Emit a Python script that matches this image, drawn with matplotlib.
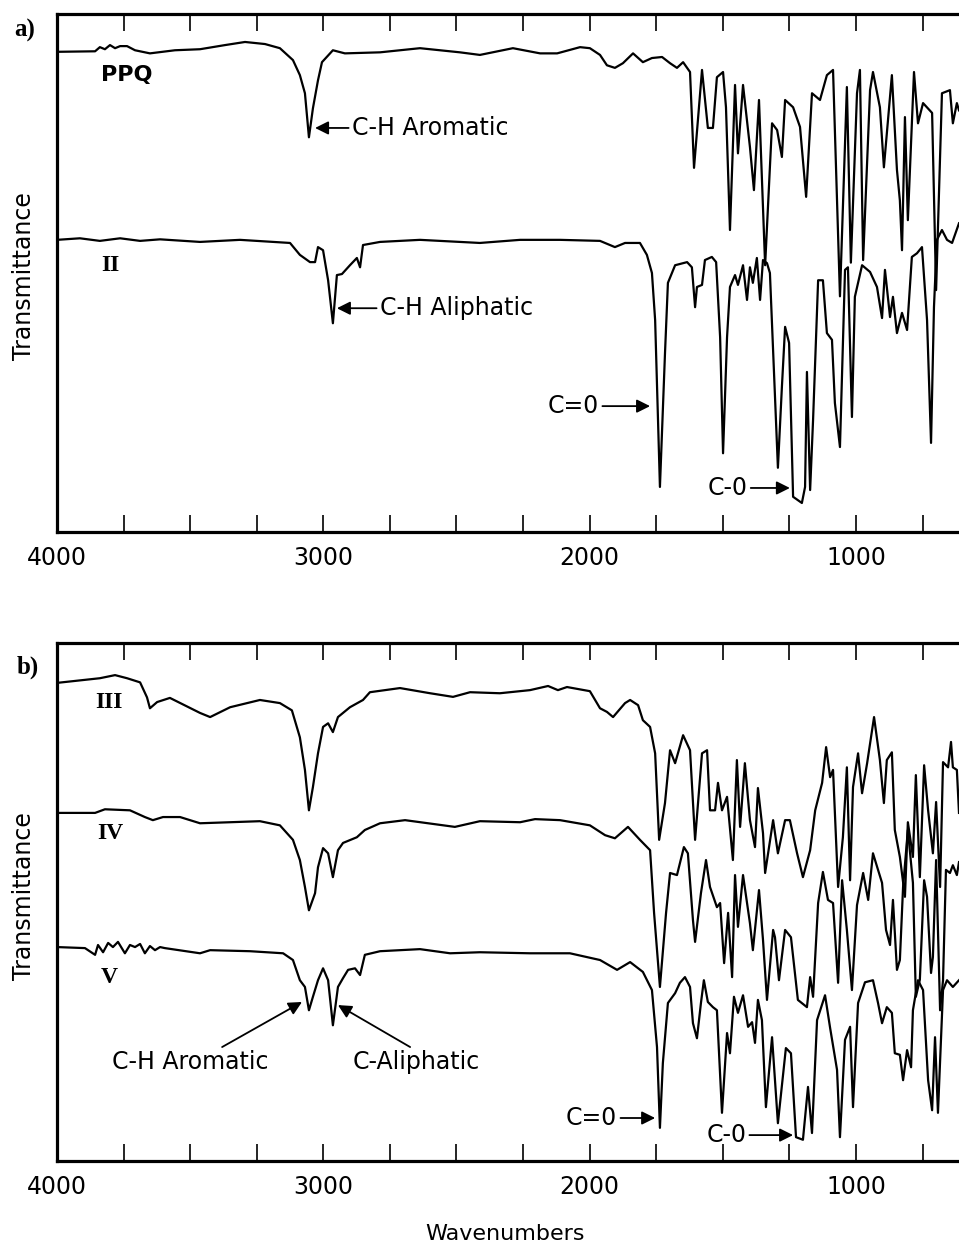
import numpy as np
import matplotlib
matplotlib.use('Agg')
import matplotlib.pyplot as plt
from matplotlib.ticker import MultipleLocator, FixedLocator

# IR spectra: (wavenumber cm-1, transmittance in arbitrary % of panel height)
ppq = np.array([
    (4000, 92.7), (3857, 92.8), (3839, 93.6), (3820, 93.2), (3801, 94.0), (3782, 93.4), (3763, 93.8),
    (3737, 93.8), (3707, 93.0), (3651, 92.4), (3557, 93.0), (3463, 93.2), (3369, 94.0), (3294, 94.6),
    (3219, 94.2), (3163, 93.4), (3114, 91.1), (3088, 88.2), (3069, 84.7), (3054, 76.2), (3039, 81.8),
    (3020, 87.2), (3005, 90.7), (2964, 93.0), (2919, 92.4), (2787, 92.6), (2637, 93.4), (2487, 92.6),
    (2412, 92.1), (2288, 93.4), (2186, 92.4), (2122, 92.4), (2036, 93.6), (1999, 93.4), (1961, 92.1),
    (1935, 90.1), (1905, 89.6), (1875, 90.5), (1837, 92.4), (1800, 90.7), (1766, 91.5), (1728, 91.7),
    (1698, 90.5), (1672, 89.6), (1649, 90.7), (1634, 89.6), (1623, 88.8), (1608, 70.3), (1578, 89.2),
    (1556, 78.0), (1537, 78.0), (1522, 87.8), (1499, 88.8), (1488, 82.0), (1473, 58.3), (1454, 86.3),
    (1443, 73.1), (1424, 86.3), (1398, 74.3), (1383, 66.0), (1364, 83.4), (1341, 51.5), (1315, 78.9),
    (1296, 77.6), (1278, 72.4), (1266, 83.4), (1236, 82.0), (1210, 78.2), (1187, 64.7), (1165, 84.7),
    (1135, 83.4), (1109, 88.2), (1086, 89.2), (1060, 45.5), (1034, 85.9), (1019, 52.0), (996, 84.7),
    (985, 89.2), (973, 52.5), (947, 85.3), (936, 88.8), (910, 82.0), (895, 70.4), (865, 88.2),
    (846, 69.9), (835, 64.0), (827, 54.4), (816, 80.1), (805, 60.2), (782, 88.8), (767, 78.9),
    (748, 82.8), (714, 80.9), (699, 46.7), (677, 84.7), (647, 85.3), (636, 78.9), (621, 82.8), (613, 81.4),
])

comp_ii = np.array([
    (4000, 56.4), (3914, 56.7), (3839, 56.2), (3763, 56.7), (3688, 56.2), (3613, 56.5), (3463, 56.0),
    (3313, 56.4), (3125, 55.8), (3088, 53.5), (3050, 52.1), (3031, 52.1), (3020, 55.0), (3001, 54.4),
    (2982, 48.6), (2964, 40.3), (2949, 49.6), (2930, 49.8), (2900, 51.5), (2874, 52.9), (2862, 51.1),
    (2851, 55.4), (2787, 56.0), (2637, 56.4), (2412, 55.8), (2261, 56.4), (2111, 56.4), (1961, 56.2),
    (1905, 55.0), (1867, 55.8), (1811, 55.8), (1785, 53.5), (1766, 50.0), (1754, 40.9), (1736, 8.7),
    (1717, 34.5), (1706, 48.1), (1679, 51.5), (1634, 52.1), (1616, 51.1), (1604, 43.4), (1597, 47.3),
    (1578, 47.7), (1567, 52.5), (1541, 53.1), (1525, 52.1), (1510, 37.6), (1499, 15.2), (1484, 37.6),
    (1473, 47.3), (1454, 49.6), (1443, 47.7), (1424, 51.5), (1409, 44.8), (1398, 51.1), (1387, 48.1),
    (1372, 52.9), (1360, 44.8), (1349, 52.5), (1334, 51.9), (1323, 50.0), (1293, 12.4), (1278, 28.0),
    (1266, 39.6), (1251, 36.5), (1236, 6.8), (1203, 5.6), (1191, 8.7), (1184, 30.9), (1172, 8.1),
    (1161, 21.6), (1142, 48.6), (1124, 48.6), (1109, 38.4), (1090, 37.1), (1079, 24.9), (1060, 16.4),
    (1041, 50.6), (1030, 51.1), (1015, 22.2), (1004, 45.4), (977, 51.5), (947, 50.2), (921, 47.3),
    (902, 41.3), (891, 50.6), (872, 41.5), (861, 45.4), (846, 38.4), (827, 42.3), (808, 39.0),
    (790, 53.1), (771, 53.8), (752, 55.0), (733, 40.9), (718, 17.2), (707, 43.4), (696, 56.4),
    (677, 58.3), (658, 56.4), (639, 55.8), (613, 59.6),
])

comp_iii = np.array([
    (4000, 92.3), (3839, 93.2), (3782, 93.8), (3737, 93.2), (3688, 92.4), (3662, 89.5), (3651, 87.4),
    (3624, 88.6), (3576, 89.4), (3463, 86.5), (3425, 85.7), (3350, 87.6), (3238, 89.0), (3163, 88.4),
    (3118, 87.0), (3088, 81.8), (3069, 75.5), (3054, 67.7), (3039, 72.2), (3020, 78.7), (3001, 83.8),
    (2982, 84.5), (2964, 82.8), (2945, 85.7), (2900, 87.6), (2851, 89.0), (2825, 90.5), (2712, 91.3),
    (2599, 90.3), (2513, 89.6), (2449, 90.5), (2337, 90.3), (2224, 90.9), (2156, 91.7), (2119, 90.9),
    (2085, 91.5), (1999, 90.7), (1961, 87.4), (1935, 86.7), (1912, 85.7), (1867, 88.4), (1848, 89.0),
    (1818, 88.0), (1800, 85.1), (1773, 83.8), (1754, 78.7), (1739, 62.0), (1717, 69.1), (1698, 79.3),
    (1679, 76.8), (1649, 82.2), (1623, 79.3), (1604, 62.0), (1578, 78.7), (1559, 79.3), (1548, 67.7),
    (1529, 67.7), (1518, 73.0), (1503, 67.7), (1484, 70.3), (1462, 58.1), (1447, 77.4), (1435, 64.5),
    (1417, 76.8), (1398, 65.8), (1379, 60.6), (1368, 72.0), (1349, 63.3), (1341, 55.6), (1311, 65.8),
    (1293, 59.4), (1266, 65.8), (1248, 65.8), (1221, 59.4), (1199, 54.8), (1172, 60.0), (1153, 67.7),
    (1127, 73.0), (1112, 79.9), (1097, 74.1), (1086, 75.5), (1067, 52.9), (1049, 62.5), (1034, 76.0),
    (1022, 54.2), (1011, 72.2), (992, 78.7), (977, 71.0), (958, 76.8), (932, 85.7), (910, 77.4),
    (895, 69.1), (884, 77.4), (865, 78.9), (854, 63.9), (835, 58.7), (816, 51.0), (805, 65.4),
    (786, 58.7), (775, 74.5), (760, 54.8), (744, 76.4), (729, 67.7), (711, 59.4), (699, 69.3),
    (684, 52.9), (673, 77.0), (654, 76.0), (643, 80.9), (636, 76.0), (621, 75.5), (613, 67.2),
])

comp_iv = np.array([
    (4000, 67.2), (3857, 67.2), (3820, 67.9), (3726, 67.7), (3670, 66.4), (3640, 65.8), (3602, 66.4),
    (3538, 66.4), (3463, 65.2), (3350, 65.4), (3238, 65.6), (3163, 64.8), (3114, 62.0), (3088, 58.1),
    (3069, 52.9), (3054, 48.4), (3031, 51.7), (3020, 56.7), (3001, 60.4), (2982, 59.4), (2964, 54.8),
    (2945, 60.0), (2926, 61.4), (2874, 62.5), (2844, 63.9), (2787, 65.2), (2693, 65.8), (2506, 64.5),
    (2412, 65.6), (2261, 65.4), (2205, 66.0), (2111, 65.8), (1999, 64.8), (1942, 62.9), (1905, 62.3),
    (1856, 64.5), (1811, 62.0), (1773, 60.0), (1758, 47.9), (1736, 33.6), (1713, 47.9), (1698, 55.6),
    (1672, 55.2), (1646, 60.6), (1631, 59.4), (1612, 46.5), (1604, 42.3), (1582, 51.7), (1563, 58.1),
    (1548, 52.9), (1522, 49.0), (1510, 49.8), (1495, 38.2), (1480, 47.9), (1465, 35.5), (1454, 55.2),
    (1443, 45.2), (1424, 55.2), (1398, 45.9), (1387, 40.7), (1364, 52.3), (1349, 42.7), (1334, 31.1),
    (1311, 44.6), (1304, 43.2), (1289, 34.9), (1266, 44.6), (1244, 43.2), (1218, 31.1), (1184, 29.7),
    (1172, 35.5), (1161, 31.7), (1142, 49.8), (1124, 55.8), (1105, 50.4), (1086, 49.8), (1067, 34.4),
    (1052, 54.2), (1034, 44.6), (1015, 33.0), (996, 49.4), (973, 55.6), (954, 50.4), (936, 59.4),
    (917, 56.2), (902, 53.7), (887, 44.6), (872, 41.7), (861, 50.4), (846, 36.9), (835, 38.8),
    (823, 52.9), (805, 63.9), (786, 53.7), (775, 31.7), (760, 35.0), (744, 54.2), (733, 51.0),
    (718, 36.3), (711, 39.4), (699, 58.1), (684, 29.1), (673, 34.9), (662, 56.2), (647, 55.6),
    (636, 57.1), (621, 55.2), (613, 57.7),
])

comp_v = np.array([
    (4000, 41.3), (3895, 41.1), (3857, 39.8), (3846, 41.7), (3827, 40.3), (3808, 42.1), (3790, 41.3),
    (3771, 42.3), (3745, 40.1), (3726, 41.7), (3707, 41.3), (3688, 41.9), (3670, 40.1), (3651, 41.5),
    (3632, 40.7), (3613, 41.3), (3595, 41.1), (3463, 40.1), (3425, 40.7), (3275, 40.5), (3151, 40.1),
    (3114, 38.8), (3088, 34.9), (3069, 33.6), (3054, 29.1), (3039, 31.7), (3020, 34.9), (3001, 37.2),
    (2982, 34.9), (2964, 26.2), (2945, 33.6), (2926, 35.3), (2907, 36.9), (2881, 37.2), (2862, 35.9),
    (2844, 39.8), (2787, 40.5), (2637, 40.9), (2524, 40.1), (2412, 40.3), (2224, 40.1), (2074, 40.1),
    (1961, 38.8), (1897, 36.9), (1848, 38.4), (1800, 36.5), (1766, 33.0), (1747, 22.0), (1736, 6.4),
    (1725, 18.9), (1706, 30.5), (1679, 32.4), (1661, 34.4), (1642, 35.5), (1623, 33.6), (1612, 26.6),
    (1597, 23.7), (1582, 30.5), (1571, 34.9), (1556, 30.7), (1537, 29.7), (1522, 29.1), (1503, 9.3),
    (1484, 24.7), (1473, 20.8), (1458, 31.7), (1443, 28.6), (1424, 32.0), (1405, 25.9), (1390, 26.8),
    (1379, 22.8), (1368, 31.1), (1353, 27.2), (1338, 10.4), (1315, 23.9), (1293, 7.3), (1263, 21.8),
    (1244, 20.8), (1225, 4.6), (1199, 4.1), (1180, 14.3), (1165, 5.4), (1146, 27.2), (1116, 32.0),
    (1097, 25.7), (1071, 17.6), (1060, 4.6), (1041, 23.4), (1022, 25.9), (1011, 10.4), (992, 30.5),
    (966, 34.5), (936, 34.9), (917, 30.5), (902, 26.6), (884, 29.7), (865, 28.6), (854, 20.8),
    (835, 20.5), (823, 15.6), (808, 21.4), (793, 18.1), (786, 29.1), (767, 34.9), (748, 33.0),
    (729, 15.6), (714, 9.8), (703, 23.9), (692, 9.3), (673, 33.0), (658, 34.9), (636, 33.6), (613, 34.9),
])

# curve labels: (name, wavenumber, transmittance)
labels_a = [('PPQ', 3737, 88.2), ('II', 3801, 51.5)]
labels_b = [('III', 3805, 88.6), ('IV', 3801, 63.3), ('V', 3805, 35.5)]

# band annotations: (text, arrow tip, arrow tail)
notes_a = [
    ('C-H Aromatic', (3031, 78.0), (2905, 78.0)),
    ('C-H Aliphatic', (2949, 43.2), (2800, 43.2)),
    ('C=0', (1773, 24.3), (1952, 24.3)),
    ('C-0', (1248, 8.5), (1395, 8.5)),
]
notes_b = [
    ('C=0', (1754, 8.3), (1884, 8.3)),
    ('C-0', (1236, 5.0), (1400, 5.0)),
]

WN_MAX, WN_MIN = 4000, 613
FONT = 'DejaVu Sans'
ARROW = dict(arrowstyle='-|>', color='black', lw=1.3, mutation_scale=20, shrinkA=0, shrinkB=0)


def style_axis(ax):
    ax.set_xlim(WN_MAX, WN_MIN)
    ax.set_ylim(0, 100)
    ax.spines['right'].set_visible(False)
    for s in ['left', 'top', 'bottom']:
        ax.spines[s].set_linewidth(2.3)
    ax.xaxis.set_major_locator(FixedLocator([4000, 3000, 2000, 1000]))
    ax.xaxis.set_minor_locator(MultipleLocator(250))
    ax.set_yticks([])
    ax.tick_params(axis='x', which='both', direction='in', top=True, bottom=True,
                   length=12.5, width=1.2, labelsize=17, pad=10)
    for lab in ax.get_xticklabels():
        lab.set_fontfamily(FONT)


def draw_notes(ax, notes):
    for text, tip, tail in notes:
        ha = 'left' if tail[0] < tip[0] else 'right'
        ax.annotate('', xy=tip, xytext=tail, arrowprops=ARROW)
        ax.text(tail[0] + (-12 if ha == 'left' else 12), tail[1], text, ha=ha, va='center',
                fontsize=17, family=FONT)


def draw_labels(ax, labels, fam, size):
    for name, x, y in labels:
        ax.text(x, y, name, ha='center', va='center', fontsize=size, family=fam, fontweight='bold')


fig = plt.figure(figsize=(9.59, 12.48), dpi=100)
ax_a = fig.add_axes([57 / 959, 1 - 532 / 1248, 1 - 57 / 959, 518 / 1248])
ax_b = fig.add_axes([57 / 959, 1 - 1161 / 1248, 1 - 57 / 959, 518 / 1248])

for spec in (ppq, comp_ii):
    ax_a.plot(spec[:, 0], spec[:, 1], color='black', lw=1.6)
for spec in (comp_iii, comp_iv, comp_v):
    ax_b.plot(spec[:, 0], spec[:, 1], color='black', lw=1.6)

for ax in (ax_a, ax_b):
    style_axis(ax)

draw_labels(ax_a, labels_a[:1], FONT, 16)
draw_labels(ax_a, labels_a[1:], 'Liberation Serif', 17)
draw_labels(ax_b, labels_b, 'Liberation Serif', 17)
draw_notes(ax_a, notes_a)
draw_notes(ax_b, notes_b)

# panel b aromatic / aliphatic labels with slanted arrows
ax_b.annotate('', xy=(3080, 30.7), xytext=(3380, 22.0), arrowprops=ARROW)
ax_b.annotate('', xy=(2945, 30.1), xytext=(2674, 22.0), arrowprops=ARROW)
ax_b.text(3501, 19.1, 'C-H Aromatic', ha='center', va='center', fontsize=17, family=FONT)
ax_b.text(2889, 19.1, 'C-Aliphatic', ha='left', va='center', fontsize=17, family=FONT)

fig.text(25 / 959, 1 - 30 / 1248, 'a)', ha='center', va='center', fontsize=18,
         family='Liberation Serif', fontweight='bold')
fig.text(28 / 959, 1 - 667 / 1248, 'b)', ha='center', va='center', fontsize=18,
         family='Liberation Serif', fontweight='bold')
fig.text(24 / 959, 1 - 276 / 1248, 'Transmittance', rotation=90, ha='center', va='center',
         fontsize=17, family=FONT)
fig.text(24 / 959, 1 - 896 / 1248, 'Transmittance', rotation=90, ha='center', va='center',
         fontsize=17, family=FONT)
fig.text(505 / 959, 1 - 1234 / 1248, 'Wavenumbers', ha='center', va='center',
         fontsize=16, family=FONT)

fig.savefig('out.png', dpi=100)
